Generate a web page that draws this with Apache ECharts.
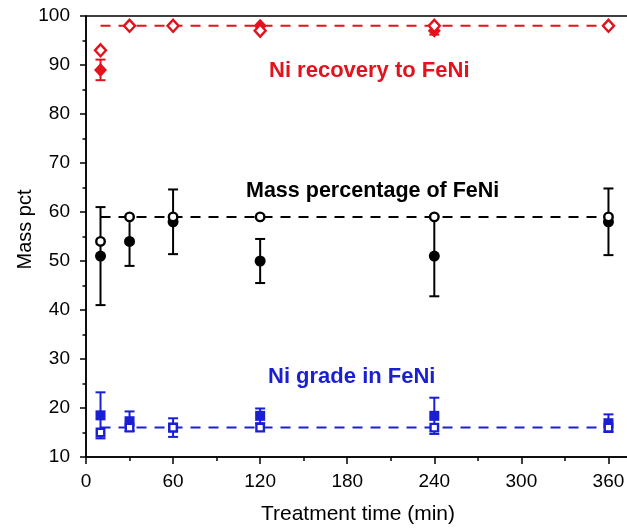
<!DOCTYPE html>
<html>
<head>
<meta charset="utf-8">
<script src="https://cdn.jsdelivr.net/npm/echarts@6/dist/echarts.min.js"></script>
<style>
html,body{margin:0;padding:0;background:#fff;}
#chart{width:627px;height:529px;}
</style>
</head>
<body>
<div id="chart"></div>
<script>
// ---- data ----
var time = [10, 30, 60, 120, 240, 360];
var recoveryOpen   = [93, 98, 98, 97, 98, 98];
var recoveryFilled = [89, 98, 98, 98, 97, 98];
var recoveryErr    = [2.1, 0, 0, 0, 0.8, 0];
var recoveryMean = 98;

var massOpen   = [54, 59, 59, 59, 59, 59];
var massFilled = [51, 54, 58, 50, 51, 58];
var massErr    = [10, 5, 6.6, 4.5, 8.2, 6.8];
var massMean = 59;

var gradeOpen   = [15, 16, 16, 16, 16, 16];
var gradeFilled = [18.5, 17.3, 16, 18.4, 18.4, 16.9];
var gradeErr    = [4.7, 2, 1.9, 1.5, 3.7, 1.8];
var gradeMean = 16;

var xTicks = [0, 60, 120, 180, 240, 300, 360];
var yTicks = [10, 20, 30, 40, 50, 60, 70, 80, 90, 100];

var RED = '#e3121c', BLACK = '#000000', BLUE = '#1a1fd4';

function pts(vals){ return time.map(function(t,i){ return [t, vals[i]]; }); }
function errs(vals, e){ return time.map(function(t,i){ return [t, vals[i]-e[i], vals[i]+e[i]]; }); }
function meanLine(v){ return [[time[0], v], [time[time.length-1], v]]; }

function errSeries(vals, e, color){
  return {
    type: 'custom', z: 2,
    data: errs(vals, e),
    encode: {x: 0, y: [1, 2]},
    renderItem: function(params, api){
      var x = api.value(0), lo = api.value(1), hi = api.value(2);
      if (hi - lo < 1e-6) return null;
      var pLo = api.coord([x, lo]), pHi = api.coord([x, hi]);
      var w = 5;
      var st = {stroke: color, lineWidth: 2, fill: null};
      return {type: 'group', children: [
        {type: 'line', shape: {x1: pLo[0], y1: pLo[1], x2: pHi[0], y2: pHi[1]}, style: st},
        {type: 'line', shape: {x1: pLo[0]-w, y1: pLo[1], x2: pLo[0]+w, y2: pLo[1]}, style: st},
        {type: 'line', shape: {x1: pHi[0]-w, y1: pHi[1], x2: pHi[0]+w, y2: pHi[1]}, style: st}
      ]};
    }
  };
}
function dashSeries(v, color){
  return {type: 'line', z: 1, data: meanLine(v), symbol: 'none',
    lineStyle: {color: color, width: 2, type: [10, 8]}, silent: true};
}
function filledSeries(vals, color, symbol, size){
  return {type: 'scatter', z: 3, data: pts(vals), symbol: symbol, symbolSize: size,
    itemStyle: {color: color, opacity: 1}};
}
function openSeries(vals, color, symbol, size){
  return {type: 'scatter', z: 4, data: pts(vals), symbol: symbol, symbolSize: size,
    itemStyle: {color: '#ffffff', borderColor: color, borderWidth: 2.4, opacity: 1}};
}

var chart = echarts.init(document.getElementById('chart'), null, {renderer: 'canvas'});
var font = 'Liberation Sans, Arial, Helvetica, sans-serif';
chart.setOption({
  animation: false,
  backgroundColor: '#ffffff',
  grid: {left: 86, top: 16, width: 566, height: 441, outerBoundsMode: 'none', containLabel: false,
    show: true, borderColor: '#000', borderWidth: 1.5, backgroundColor: 'transparent'},
  xAxis: {
    type: 'value', min: 0, max: 390, interval: 60,
    name: 'Treatment time (min)', nameLocation: 'middle', nameGap: 47,
    nameTextStyle: {fontFamily: font, fontSize: 21, color: '#000', padding: [0, 22, 0, 0]},
    axisLine: {show: true, lineStyle: {color: '#000', width: 1.5}},
    axisTick: {show: true, inside: false, length: 7, lineStyle: {color: '#000', width: 1.5}},
    minorTick: {show: true, splitNumber: 2, length: 4, lineStyle: {color: '#000', width: 1.5}},
    axisLabel: {fontFamily: font, fontSize: 19, color: '#000', margin: 15, showMaxLabel: false,
      formatter: function(v){ return xTicks.indexOf(v) >= 0 ? String(v) : ''; }},
    splitLine: {show: false}
  },
  yAxis: {
    type: 'value', min: 10, max: 100, interval: 10,
    name: 'Mass pct', nameLocation: 'middle', nameGap: 51, nameMoveOverlap: false,
    nameTextStyle: {fontFamily: font, fontSize: 20, color: '#000', padding: [0, 0, 0, 14]},
    axisLine: {show: true, lineStyle: {color: '#000', width: 1.5}},
    axisTick: {show: true, inside: false, length: 6, lineStyle: {color: '#000', width: 1.5}},
    minorTick: {show: true, splitNumber: 2, length: 3.5, lineStyle: {color: '#000', width: 1.5}},
    axisLabel: {fontFamily: font, fontSize: 19, color: '#000', margin: 16,
      formatter: function(v){ return yTicks.indexOf(v) >= 0 ? String(v) : ''; }},
    splitLine: {show: false}
  },
  graphic: [
    {type: 'text', left: 269, top: 60, style: {text: 'Ni recovery to FeNi', fill: RED, font: 'bold 22px ' + font}},
    {type: 'text', left: 246, top: 180, style: {text: 'Mass percentage of FeNi', fill: BLACK, font: 'bold 21.5px ' + font}},
    {type: 'text', left: 268, top: 366, style: {text: 'Ni grade in FeNi', fill: BLUE, font: 'bold 22px ' + font}}
  ],
  series: [
    dashSeries(recoveryMean, RED),
    dashSeries(massMean, BLACK),
    dashSeries(gradeMean, BLUE),
    errSeries(recoveryFilled, recoveryErr, RED),
    errSeries(massFilled, massErr, BLACK),
    errSeries(gradeFilled, gradeErr, BLUE),
    filledSeries(recoveryFilled, RED, 'diamond', [13, 14]),
    filledSeries(massFilled, BLACK, 'circle', 11),
    filledSeries(gradeFilled, BLUE, 'rect', 10),
    openSeries(recoveryOpen, RED, 'diamond', [11, 12]),
    openSeries(massOpen, BLACK, 'circle', 8.5),
    openSeries(gradeOpen, BLUE, 'rect', 7.5)
  ]
});
</script>
</body>
</html>
